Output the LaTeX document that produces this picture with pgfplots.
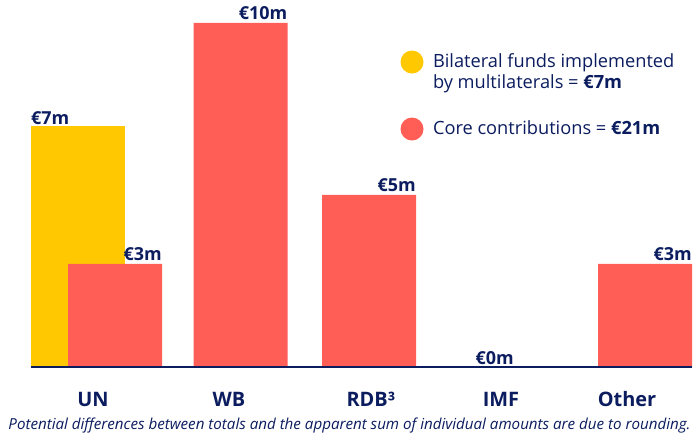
\documentclass[border=0pt]{standalone}
\usepackage{fontspec}
\setmainfont{Open Sans}
\usepackage{pgfplots}
\pgfplotsset{compat=1.18}
\definecolor{navy}{HTML}{0B1C5F}
\definecolor{barY}{HTML}{FFC800}
\definecolor{barR}{HTML}{FF5E57}
\begin{document}
\begin{tikzpicture}
\useasboundingbox (0,-70bp) rectangle (699bp,367bp);
\begin{axis}[
  at={(0,0)}, anchor=south west,
  scale only axis, width=699bp, height=367bp,
  xmin=0, xmax=699, ymin=0, ymax=10.6686,
  clip=false,
  /pgf/number format/assume math mode=true,
  axis line style={draw=none},
  major tick length=0pt,
  ytick=\empty,
  xtick={93,229,371,501,627},
  xticklabels={UN,WB,RDB³,IMF,Other},
  xticklabel style={anchor=base, yshift=-39bp, font=\fontsize{20}{24}\selectfont\bfseries, text=navy, inner sep=0pt},
  legend style={draw=none, fill=none, inner sep=0pt, outer sep=0pt,
    at={(axis cs:400.5,9.20)}, anchor=north west,
    row sep=44bp,
    nodes={inner sep=0pt, anchor=base west, text=navy, font=\fontsize{18.3}{22}\selectfont},
    /tikz/every odd column/.append style={column sep=9.5bp}},
]
\addplot[ybar, bar width=94, bar shift=0pt, fill=barY, draw=none,
  nodes near coords={\textbf{€\pgfmathprintnumber[fixed,precision=0]{\pgfplotspointmeta}m}},
  nodes near coords style={anchor=base west, xshift=-47bp, yshift=2bp, inner sep=0pt, text=navy, font=\fontsize{18}{21.6}\selectfont\bfseries},
  legend image code/.code={\fill[barY] (11.5bp,5bp) circle (11.5bp);}]
  coordinates {(78,7)};
\addlegendentry{\parbox[t]{260bp}{Bilateral funds implemented\\by multilaterals = \textbf{€7m}}}
\addplot[ybar, bar width=94, bar shift=0pt, fill=barR, draw=none,
  nodes near coords={\textbf{€\pgfmathprintnumber[fixed,precision=0]{\pgfplotspointmeta}m}},
  nodes near coords style={anchor=base east, xshift=47bp, yshift=3bp, inner sep=0pt, text=navy, font=\fontsize{18}{21.6}\selectfont\bfseries},
  legend image code/.code={\fill[barR] (11.5bp,5bp) circle (11.5bp);}]
  coordinates {(115,3) (240.5,10) (369,5) (467,0) (645,3)};
\addlegendentry{Core contributions = \textbf{€21m}}
\draw[navy, line width=2bp] (axis cs:31,0) -- (axis cs:692,0);
\node[anchor=base, yshift=-62bp, inner sep=0pt, text=navy, font=\fontsize{15.2}{17}\selectfont\itshape]
  at (axis cs:349.5,0) {Potential differences between totals and the apparent sum of individual amounts are due to rounding.};
\end{axis}
\end{tikzpicture}
\end{document}
